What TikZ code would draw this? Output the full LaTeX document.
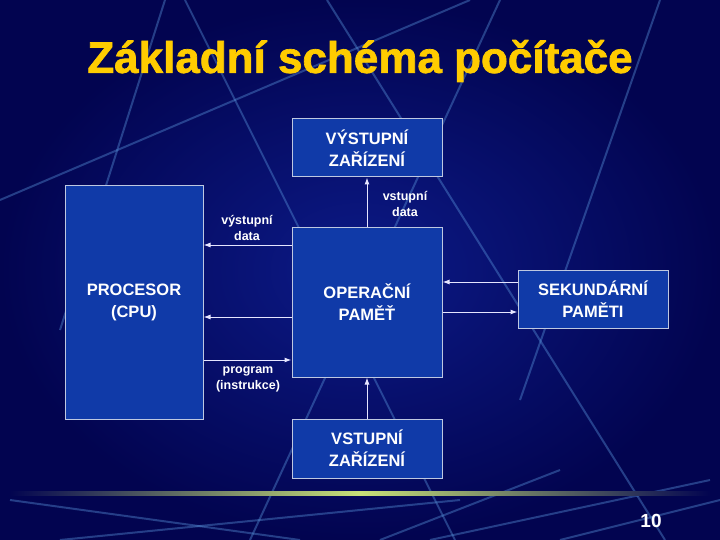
\documentclass[tikz,border=0pt]{standalone}
\usepackage{fontspec}
\setmainfont{Liberation Sans}
\newfontfamily\titlefont{Liberation Sans}[BoldFeatures={FakeBold=1.6}]
\usetikzlibrary{arrows.meta}
\definecolor{bgdark}{RGB}{2,4,80}
\definecolor{bgmid}{RGB}{12,26,135}
\definecolor{boxblue}{RGB}{16,58,168}
\definecolor{boxline}{RGB}{190,200,225}
\definecolor{titleyel}{RGB}{255,204,0}
\definecolor{glow}{RGB}{200,225,120}
\definecolor{streak}{RGB}{90,150,220}
\begin{document}
\begin{tikzpicture}[x=1pt,y=-1pt,
        bsty/.style={draw=boxline,line width=1pt,fill=boxblue,text=white,
            font=\fontsize{16.5}{22}\selectfont\bfseries,align=center,
            inner sep=0pt},
        lsty/.style={text=white,font=\fontsize{12.5}{16}\selectfont\bfseries,align=center},
        asty/.style={draw=white!90!blue,line width=1pt,-{Latex[length=7pt,width=5pt]}},
        dsty/.style={streak,line width=2pt,opacity=0.4},
        ]

    \useasboundingbox (0,0) rectangle (720,540);
    \shade[inner color=bgmid,outer color=bgdark] (0,0) rectangle (720,540);

    % background streaks
    \draw[dsty] (185,0) -- (455,540);
    \draw[dsty] (327,0) -- (665,540);
    \draw[dsty] (165,0) -- (60,330);
    \draw[dsty] (500,0) -- (250,540);
    \draw[dsty] (660,0) -- (520,400);
    \draw[dsty] (0,200) -- (470,0);
    \draw[dsty] (10,500) -- (300,540);
    \draw[dsty] (60,540) -- (460,500);
    \draw[dsty] (380,540) -- (560,470);
    \draw[dsty] (430,540) -- (710,480);
    \draw[dsty] (560,540) -- (720,500);
    \shade[left color=bgdark,right color=bgdark,middle color=glow] (10,491.5) rectangle (710,495);

    \node (title) at (360,61) [text=titleyel,font=\fontsize{44}{50}\selectfont\titlefont\bfseries] {Základní schéma počítače};
    \node (pnum) at (651,521) [text=white,font=\fontsize{19}{22}\selectfont\bfseries] {10};

    \node (proc) at (134,302.5) [bsty,minimum width=138pt,minimum height=233pt] {PROCESOR\\(CPU)};
    \node (op) at (367,302.5) [bsty,minimum width=150pt,minimum height=149pt] {OPERAČNÍ\\PAMĚŤ};
    \node (vyst) at (367,148) [bsty,minimum width=150pt,minimum height=58pt] {VÝSTUPNÍ\\ZAŘÍZENÍ};
    \node (vst) at (367,448.5) [bsty,minimum width=150pt,minimum height=59pt] {VSTUPNÍ\\ZAŘÍZENÍ};
    \node (sek) at (593,299) [bsty,minimum width=150pt,minimum height=58pt] {SEKUNDÁRNÍ\\PAMĚTI};

    \node (lvyst) at (247,228) [lsty] {výstupní\\data};
    \node (lvst) at (405,204) [lsty] {vstupní\\data};
    \node (lprog) at (248,379) [lsty] {program\\(instrukce)};

    \draw[asty] (op.west |- 0,245) -- (proc.east |- 0,245);
    \draw[asty] (op.west |- 0,317) -- (proc.east |- 0,317);
    \draw[asty] (proc.east |- 0,360) -- (op.west |- 0,360);
    \draw[asty] (op.north) -- (vyst.south);
    \draw[asty] (vst.north) -- (op.south);
    \draw[asty] (sek.west |- 0,282) -- (op.east |- 0,282);
    \draw[asty] (op.east |- 0,312) -- (sek.west |- 0,312);

\end{tikzpicture}
\end{document}
